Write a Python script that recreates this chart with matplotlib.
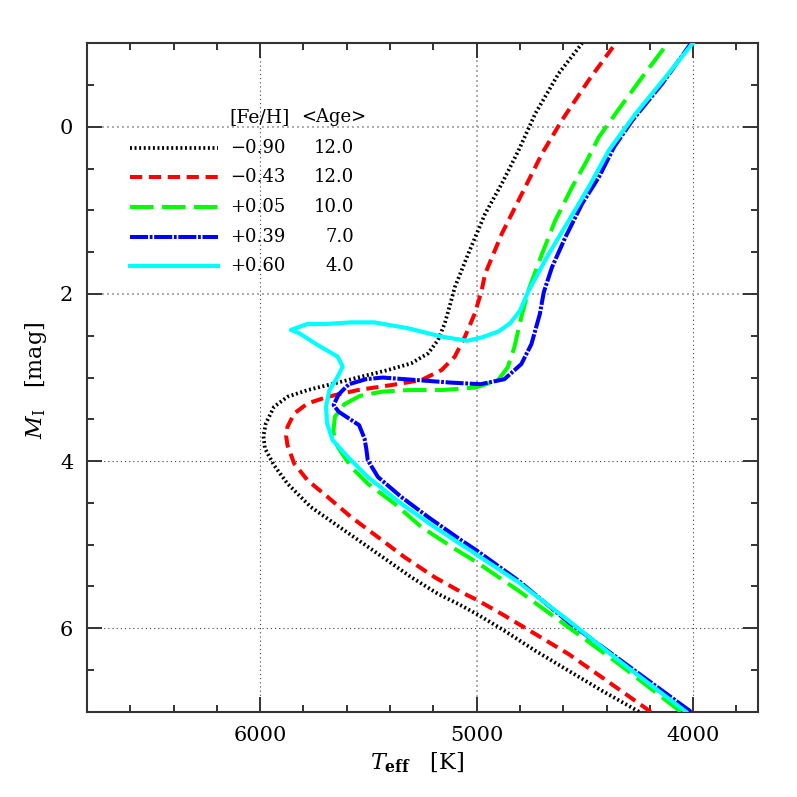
"""
Isochrones in the Teff - M_I plane for five metallicities.
"""
import numpy as np
import matplotlib
matplotlib.use("Agg")
import matplotlib.pyplot as plt
from matplotlib.ticker import MultipleLocator


# Isochrone data (Teff [K], M_I [mag])
feh_labels = ["\u22120.90", "\u22120.43", "+0.05", "+0.39", "+0.60"]
age_labels = ["12.0", "12.0", "10.0", "7.0", "4.0"]

teff_m090 = [4250, 4420, 4575, 4729, 4884, 5000, 5085, 5178, 5302, 5456, 5611,
             5766, 5874, 5936, 5978, 5985, 5974, 5936, 5874, 5781, 5657, 5534,
             5410, 5302, 5224, 5178, 5147, 5122, 5101, 5039, 4961, 4884, 4806,
             4729, 4621, 4513]
mi_m090 = [7.00, 6.75, 6.51, 6.27, 6.01, 5.83, 5.71, 5.59, 5.39, 5.11, 4.83,
           4.55, 4.27, 4.05, 3.85, 3.70, 3.55, 3.35, 3.23, 3.15, 3.07, 2.99,
           2.91, 2.83, 2.71, 2.55, 2.35, 2.12, 1.92, 1.52, 1.04, 0.68, 0.28,
           -0.16, -0.64, -1.00]

teff_m043 = [4196, 4420, 4575, 4729, 4884, 5000, 5070, 5194, 5333, 5456, 5580,
             5688, 5781, 5843, 5874, 5880, 5874, 5843, 5781, 5688, 5549, 5394,
             5255, 5162, 5101, 5054, 5008, 4977, 4961, 4884, 4791, 4698, 4606,
             4482, 4358]
mi_m043 = [7.00, 6.59, 6.31, 6.07, 5.83, 5.66, 5.57, 5.39, 5.15, 4.91, 4.67,
           4.43, 4.23, 4.03, 3.81, 3.70, 3.59, 3.43, 3.31, 3.23, 3.15, 3.09,
           3.03, 2.91, 2.75, 2.51, 2.23, 1.96, 1.76, 1.28, 0.80, 0.32, -0.08,
           -0.56, -1.00]

teff_p005 = [4057, 4342, 4575, 4807, 5000, 5101, 5255, 5379, 5503, 5580, 5642,
             5662, 5655, 5611, 5540, 5441, 5317, 5162, 5008, 4904, 4857, 4826,
             4794, 4760, 4698, 4637, 4559, 4490, 4435, 4358, 4234, 4118]
mi_p005 = [7.00, 6.43, 5.99, 5.55, 5.21, 5.05, 4.79, 4.51, 4.27, 4.07, 3.83,
           3.65, 3.47, 3.32, 3.22, 3.17, 3.15, 3.15, 3.12, 3.04, 2.88, 2.64,
           2.28, 1.95, 1.52, 1.12, 0.72, 0.40, 0.12, -0.16, -0.60, -1.00]

teff_p039 = [4010, 4342, 4575, 4807, 5000, 5070, 5224, 5348, 5456, 5503, 5510,
             5518, 5543, 5637, 5661, 5637, 5590, 5512, 5434, 5278, 5122, 4982,
             4872, 4794, 4747, 4708, 4690, 4652, 4590, 4513, 4435, 4365, 4280,
             4142, 4010]
mi_p039 = [7.00, 6.37, 5.93, 5.43, 5.07, 4.95, 4.67, 4.43, 4.19, 3.99, 3.85,
           3.73, 3.57, 3.41, 3.33, 3.20, 3.08, 3.02, 3.00, 3.03, 3.06, 3.08,
           3.02, 2.84, 2.60, 2.24, 1.98, 1.68, 1.32, 0.92, 0.60, 0.24, -0.08,
           -0.52, -1.00]

teff_p060 = [4033, 4342, 4575, 4807, 5000, 5194, 5348, 5503, 5595, 5665, 5691,
             5696, 5680, 5642, 5619, 5642, 5735, 5819, 5858, 5783, 5704, 5580,
             5472, 5317, 5162, 5044, 4977, 4900, 4845, 4800, 4760, 4667, 4574,
             4482, 4389, 4265, 4126, 4002]
mi_p060 = [7.00, 6.39, 5.91, 5.45, 5.12, 4.79, 4.51, 4.19, 3.95, 3.75, 3.55,
           3.35, 3.15, 2.99, 2.87, 2.75, 2.61, 2.47, 2.43, 2.36, 2.36, 2.34,
           2.34, 2.41, 2.51, 2.56, 2.52, 2.45, 2.35, 2.20, 1.96, 1.52, 1.12,
           0.72, 0.28, -0.16, -0.60, -1.00]

xticks_major = [6000, 5000, 4000]
yticks_major = [0, 2, 4, 6]


def main():

    plt.rcParams["font.family"] = ["DejaVu Serif"]
    plt.rcParams["mathtext.fontset"] = "dejavuserif"
    plt.rcParams["lines.scale_dashes"] = False

    fig = plt.figure(figsize=(7.97, 7.97), dpi=100)
    ax = fig.add_axes([0.1092, 0.1070, 0.8419, 0.8386])

    # line styles: colour, width, dash pattern (points)
    styles = [
        ("black", 2.7, (0, (1.4, 1.9))),
        ("#ff0000", 2.9, (0, (8.8, 4.8))),
        ("#00ff00", 2.9, (0, (17.0, 6.0))),
        ("#0000ff", 2.9, (0, (13.0, 1.2, 2.0, 1.2))),
        ("#00ffff", 3.0, "-"),
    ]
    curves = [(teff_m090, mi_m090), (teff_m043, mi_m043),
              (teff_p005, mi_p005), (teff_p039, mi_p039),
              (teff_p060, mi_p060)]

    for (t, m), (col, lw, ls) in zip(curves, styles):
        ax.plot(t, m, color=col, lw=lw, linestyle=ls, zorder=3)

    # grid, two flavours as in the original
    dark = dict(color="#444444", lw=0.8, linestyle=(0, (0.8, 2.2)), zorder=1)
    light = dict(color="#aaaaaa", lw=1.4, linestyle=(0, (1.4, 2.2)), zorder=1)
    for xv in xticks_major:
        ax.axvline(xv, **(light if xv == 5000 else dark))
    for yv in yticks_major:
        ax.axhline(yv, **(light if yv < 3 else dark))

    ax.set_xlim(6800, 3700)
    ax.set_ylim(7, -1)

    ax.xaxis.set_major_locator(MultipleLocator(1000))
    ax.xaxis.set_minor_locator(MultipleLocator(200))
    ax.yaxis.set_major_locator(MultipleLocator(2))
    ax.yaxis.set_minor_locator(MultipleLocator(0.5))
    ax.tick_params(which="both", direction="in", top=True, right=True,
                   color="#333333", width=1.4, labelsize=15, pad=10)
    ax.tick_params(which="major", length=10.8)
    ax.tick_params(which="minor", length=5.3)
    for sp in ax.spines.values():
        sp.set_linewidth(1.5)
        sp.set_color("#333333")

    ax.set_xlabel(r"$T_{\mathbf{eff}}$   [K]", fontsize=16)
    ax.set_ylabel(r"$M_{\rm I}$   [mag]", fontsize=16)
    ax.xaxis.set_label_coords(0.492, -0.058)
    ax.yaxis.set_label_coords(-0.057, 0.496)

    # hand made legend
    ax.text(0.2116, 0.890, "[Fe/H]", transform=ax.transAxes, fontsize=13.5,
            ha="left", va="center")
    ax.text(0.4158, 0.890, "<Age>", transform=ax.transAxes, fontsize=13,
            ha="right", va="center")
    rows_y = [0.8435, 0.8001, 0.7552, 0.7109, 0.6665]
    for yy, (col, lw, ls), feh, age in zip(rows_y, styles, feh_labels,
                                           age_labels):
        ax.plot([0.0645, 0.195], [yy, yy], color=col, lw=lw, linestyle=ls,
                transform=ax.transAxes, zorder=4)
        ax.text(0.2127, yy, feh, transform=ax.transAxes, fontsize=13,
                ha="left", va="center")
        ax.text(0.3985, yy, age, transform=ax.transAxes, fontsize=13,
                ha="right", va="center")

    fig.savefig("out.png", dpi=100)


if __name__ == "__main__":
    main()
